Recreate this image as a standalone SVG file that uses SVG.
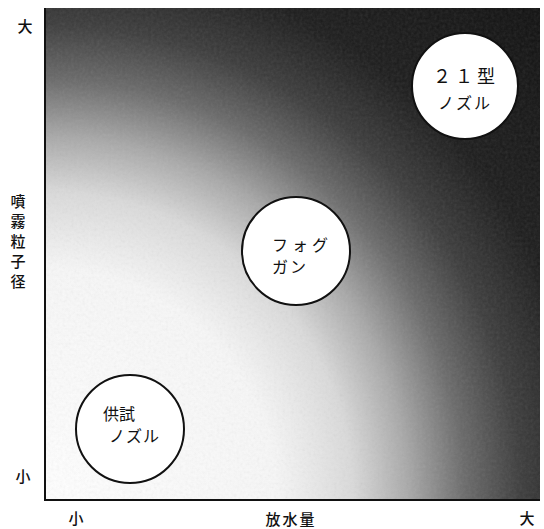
<svg xmlns="http://www.w3.org/2000/svg" width="544" height="529" viewBox="0 0 544 529">
<style>
.t{font-family:"Noto Sans CJK JP","Noto Sans CJK SC",sans-serif;fill:#111;text-anchor:middle}
.ax{font-size:15px;font-weight:500}
.lb{font-size:16px;text-anchor:start}
.c{fill:#fff;stroke:#111;stroke-width:2}
.axis{stroke:#111;stroke-width:2;fill:none}
</style>
<defs>
<radialGradient id="bg" gradientUnits="userSpaceOnUse" cx="45" cy="500" r="700">
<stop offset="0" stop-color="#ffffff"/>
<stop offset="0.33" stop-color="#f7f7f7"/>
<stop offset="0.44" stop-color="#dadada"/>
<stop offset="0.52" stop-color="#a8a8a8"/>
<stop offset="0.6" stop-color="#6a6a6a"/>
<stop offset="0.68" stop-color="#3c3c3c"/>
<stop offset="0.78" stop-color="#1c1c1c"/>
<stop offset="1" stop-color="#101010"/>
</radialGradient>
<filter id="grain" x="0" y="0" width="100%" height="100%">
<feTurbulence type="fractalNoise" baseFrequency="0.35" numOctaves="2" seed="3"/>
<feColorMatrix type="saturate" values="0"/>
</filter>
</defs>
<rect width="544" height="529" fill="#fff"/>
<g id="plot">
<rect x="44" y="8" width="496" height="492" fill="url(#bg)"/>
<rect x="44" y="8" width="496" height="492" filter="url(#grain)" opacity="0.12"/>
</g>
<g id="connectors">
<path class="axis" d="M45,8 V500 H540"/>
</g>
<g id="axis-labels">
<text class="t ax" x="25" y="32">大</text>
<text class="t ax" x="18" y="207">噴</text>
<text class="t ax" x="18" y="227">霧</text>
<text class="t ax" x="18" y="247">粒</text>
<text class="t ax" x="18" y="267">子</text>
<text class="t ax" x="18" y="287">径</text>
<text class="t ax" x="23" y="482">小</text>
<text class="t ax" x="76" y="524">小</text>
<text class="t ax" x="291" y="525" letter-spacing="2">放水量</text>
<text class="t ax" x="527" y="524">大</text>
</g>
<g id="node-21">
<circle class="c" cx="465" cy="86" r="53"/>
<text class="t" x="466" y="83" font-size="18" letter-spacing="4">２１型</text>
<text class="t" x="465" y="109" font-size="16" letter-spacing="2">ノズル</text>
</g>
<g id="node-fog">
<circle class="c" cx="296" cy="251" r="54"/>
<text class="t lb" x="272" y="251" letter-spacing="4">フォグ</text>
<text class="t lb" x="272" y="273" letter-spacing="2">ガン</text>
</g>
<g id="node-test">
<circle class="c" cx="130" cy="429" r="54"/>
<text class="t lb" x="103" y="420" font-size="15">供試</text>
<text class="t lb" x="109" y="442" font-size="15" letter-spacing="1">ノズル</text>
</g>
</svg>
